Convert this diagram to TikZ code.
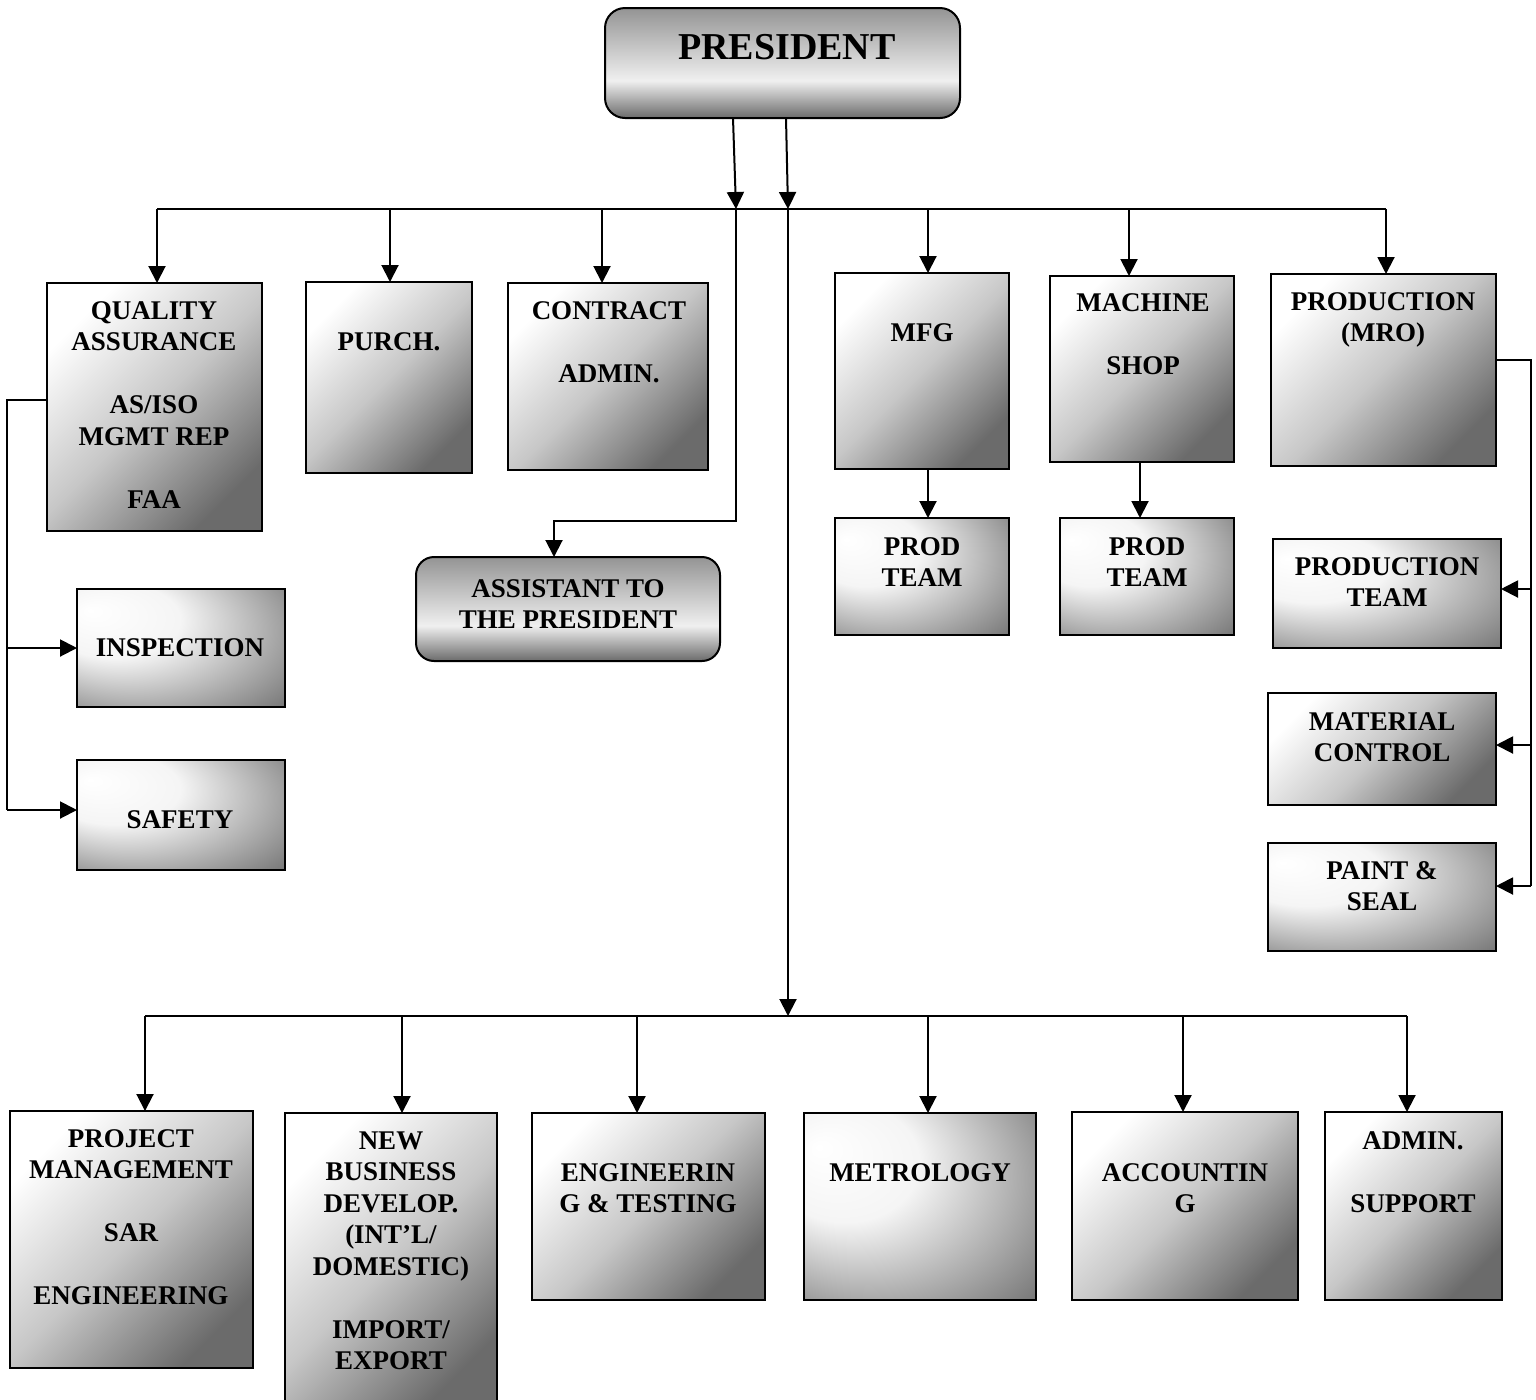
\documentclass[tikz,border=0pt]{standalone}
\usepackage{fontspec}
\setmainfont{Liberation Serif}
\usetikzlibrary{arrows.meta,shadings}
\pgfdeclareradialshading{glowtl}{\pgfpoint{-22bp}{16bp}}{color(0bp)=(white); color(16bp)=(white!96!black); color(44bp)=(black!55); color(60bp)=(black!58)}
\pgfdeclareverticalshading{cyl}{100bp}{color(0bp)=(black!58); color(25bp)=(black!58); color(42bp)=(white!94!black); color(75bp)=(black!42); color(100bp)=(black!42)}
\tikzset{
  box/.style={draw=black, line width=1pt, inner sep=0pt, outer sep=0pt},
  diagbox/.style={box, top color=white, bottom color=black!58, middle color=black!22, shading angle=45},
  glowbox/.style={box, shading=glowtl},
  cylbox/.style={box, shading=cyl, rounded corners=10pt},
  txt/.style={font=\fontsize{13.5}{15.75}\selectfont\bfseries, align=center, inner sep=0pt, anchor=north},
  conn/.style={line width=1pt},
  arr/.style={conn, -{Triangle[length=8.5pt,width=8.5pt]}}
}
\begin{document}
\begin{tikzpicture}[x=0.5pt,y=-0.5pt]
\useasboundingbox (0,0) rectangle (1536,1399);
\clip (0,0) rectangle (1536,1399);
% boxes
\node[cylbox, minimum width=177.5pt, minimum height=55pt] (pres) at (782.5,63) {};
\node[diagbox, minimum width=107.5pt, minimum height=124pt] (qa) at (154.5,407) {};
\node[diagbox, minimum width=83pt, minimum height=95.5pt] (pur) at (389,377.5) {};
\node[diagbox, minimum width=100pt, minimum height=93.5pt] (ca) at (608,376.5) {};
\node[diagbox, minimum width=87pt, minimum height=98pt] (mfg) at (922,371) {};
\node[diagbox, minimum width=92pt, minimum height=93pt] (ms) at (1142,369) {};
\node[diagbox, minimum width=112.5pt, minimum height=96pt] (mro) at (1383.5,370) {};
\node[glowbox, minimum width=87pt, minimum height=58.5pt] (pt1) at (922,576.5) {};
\node[glowbox, minimum width=87pt, minimum height=58.5pt] (pt2) at (1147,576.5) {};
\node[glowbox, minimum width=114pt, minimum height=54.5pt] (pteam) at (1387,593.5) {};
\node[diagbox, minimum width=114pt, minimum height=56pt] (mat) at (1382,749) {};
\node[glowbox, minimum width=114pt, minimum height=54pt] (paint) at (1382,897) {};
\node[glowbox, minimum width=104pt, minimum height=59pt] (insp) at (181,648) {};
\node[glowbox, minimum width=104pt, minimum height=55pt] (saf) at (181,815) {};
\node[cylbox, rounded corners=9pt, minimum width=152pt, minimum height=52pt] (asst) at (568,609) {};
\node[diagbox, minimum width=121.5pt, minimum height=128.5pt] (pm) at (131.5,1239.5) {};
\node[diagbox, minimum width=106pt, minimum height=148.5pt] (nb) at (391,1261.5) {};
\node[diagbox, minimum width=116.5pt, minimum height=93.5pt] (eng) at (648.5,1206.5) {};
\node[glowbox, minimum width=116pt, minimum height=93.5pt] (met) at (920,1206.5) {};
\node[diagbox, minimum width=113pt, minimum height=94pt] (acc) at (1185,1206) {};
\node[diagbox, minimum width=88.5pt, minimum height=94pt] (adm) at (1413.5,1206) {};
% texts
\node[txt, font=\fontsize{19}{22}\selectfont\bfseries] at (787,34) {PRESIDENT};
\node[txt] at (154,301) {QUALITY\\ASSURANCE\\[15.75pt]AS/ISO\\MGMT REP\\[15.75pt]FAA};
\node[txt] at (389,332) {PURCH.};
\node[txt] at (609,301) {CONTRACT\\[15.75pt]ADMIN.};
\node[txt] at (922,323) {MFG};
\node[txt] at (1143,293) {MACHINE\\[15.75pt]SHOP};
\node[txt] at (1383,292) {PRODUCTION\\(MRO)};
\node[txt] at (922,537) {PROD\\TEAM};
\node[txt] at (1147,537) {PROD\\TEAM};
\node[txt] at (1387,557) {PRODUCTION\\TEAM};
\node[txt] at (1382,712) {MATERIAL\\CONTROL};
\node[txt] at (1382,861) {PAINT \&\\SEAL};
\node[txt] at (180,638) {INSPECTION};
\node[txt] at (180,810) {SAFETY};
\node[txt] at (568,579) {ASSISTANT TO\\THE PRESIDENT};
\node[txt] at (131,1129) {PROJECT\\MANAGEMENT\\[15.75pt]SAR\\[15.75pt]ENGINEERING};
\node[txt] at (391,1131) {NEW\\BUSINESS\\DEVELOP.\\(INT’L/\\DOMESTIC)\\[15.75pt]IMPORT/\\EXPORT};
\node[txt] at (648,1163) {ENGINEERIN\\G \& TESTING};
\node[txt] at (920,1163) {METROLOGY};
\node[txt] at (1185,1163) {ACCOUNTIN\\G};
\node[txt] at (1413,1131) {ADMIN.\\[15.75pt]SUPPORT};
% coordinates
\coordinate (t1) at (733,0);
\coordinate (t2) at (786,0);
\coordinate (j1) at (736,209);
\coordinate (j2) at (788,209);
\coordinate (bl) at (157,209);
\coordinate (b2) at (390,209);
\coordinate (b3) at (602,209);
\coordinate (b4) at (928,209);
\coordinate (b5) at (1129,209);
\coordinate (br) at (1386,209);
\coordinate (k1) at (736,521);
\coordinate (k2) at (554,521);
\coordinate (m2) at (1140,0);
\coordinate (q1) at (7,400);
\coordinate (q2) at (7,810);
\coordinate (r1) at (1531,360);
\coordinate (r2) at (1531,589);
\coordinate (r3) at (1531,745);
\coordinate (r4) at (1531,886);
\coordinate (c0) at (788,1016);
\coordinate (c1) at (145,1016);
\coordinate (c2) at (402,1016);
\coordinate (c3) at (637,1016);
\coordinate (c4) at (928,1016);
\coordinate (c5) at (1183,1016);
\coordinate (c6) at (1407,1016);
% connectors
\draw[arr] (pres.south -| t1) -- (j1);
\draw[arr] (pres.south -| t2) -- (j2);
\draw[conn] (bl) -- (br);
\draw[arr] (bl) -- (bl |- qa.north);
\draw[arr] (b2) -- (b2 |- pur.north);
\draw[arr] (b3) -- (b3 |- ca.north);
\draw[arr] (b4) -- (b4 |- mfg.north);
\draw[arr] (b5) -- (b5 |- ms.north);
\draw[arr] (br) -- (br |- mro.north);
\draw[arr] (j1) -- (k1) -- (k2) -- (k2 |- asst.north);
\draw[arr] (j2) -- (c0);
\draw[arr] (b4 |- mfg.south) -- (b4 |- pt1.north);
\draw[arr] (m2 |- ms.south) -- (m2 |- pt2.north);
\draw[conn] (qa.west |- q1) -- (q1) -- (q2);
\draw[arr] (q1 |- insp.west) -- (insp.west);
\draw[arr] (q2) -- (saf.west |- q2);
\draw[conn] (mro.east |- r1) -- (r1) -- (r4);
\draw[arr] (r2) -- (pteam.east |- r2);
\draw[arr] (r3) -- (mat.east |- r3);
\draw[arr] (r4) -- (paint.east |- r4);
\draw[conn] (c1) -- (c6);
\draw[arr] (c1) -- (c1 |- pm.north);
\draw[arr] (c2) -- (c2 |- nb.north);
\draw[arr] (c3) -- (c3 |- eng.north);
\draw[arr] (c4) -- (c4 |- met.north);
\draw[arr] (c5) -- (c5 |- acc.north);
\draw[arr] (c6) -- (c6 |- adm.north);
\end{tikzpicture}
\end{document}
